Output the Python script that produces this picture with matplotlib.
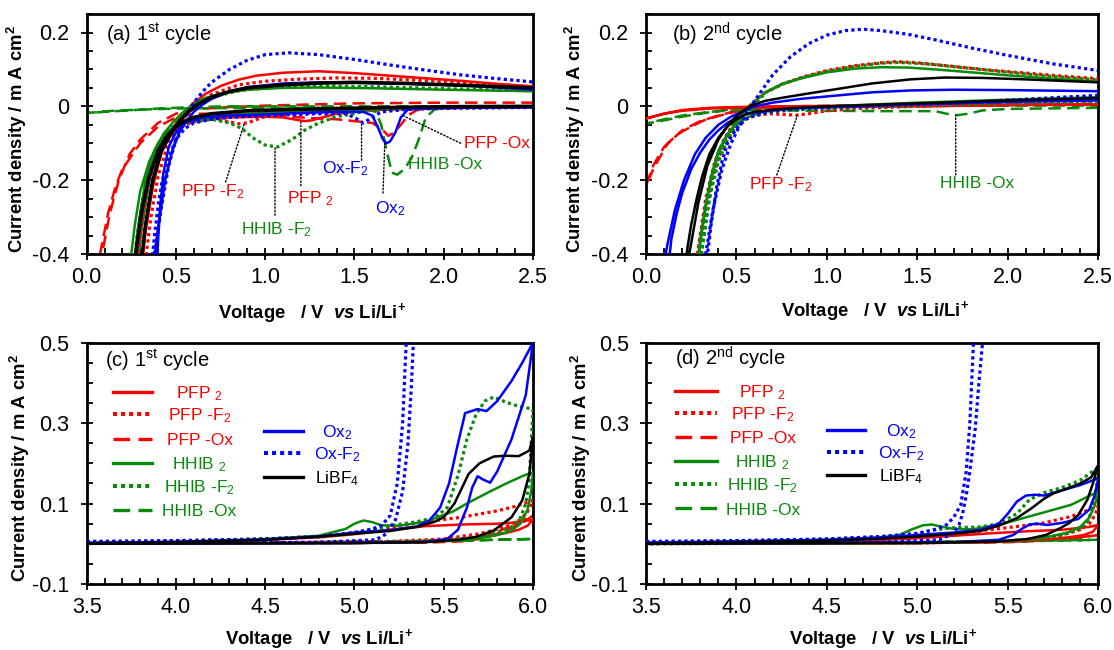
import matplotlib
matplotlib.use('Agg')
import matplotlib.pyplot as plt
from matplotlib.ticker import MultipleLocator, FuncFormatter

plt.rcParams['font.family'] = ['Liberation Sans', 'DejaVu Sans']
plt.rcParams['mathtext.fontset'] = 'custom'
plt.rcParams['mathtext.rm'] = 'Liberation Sans'
plt.rcParams['mathtext.it'] = 'Liberation Sans:italic'
plt.rcParams['mathtext.bf'] = 'Liberation Sans:bold'
plt.rcParams['mathtext.bfit'] = 'Liberation Sans:italic:bold'
plt.rcParams['axes.unicode_minus'] = False

# ---------------- series names / legend labels ----------------
SERIES = ['PFP2', 'PFP-F2', 'PFP-Ox', 'HHIB2', 'HHIB-F2', 'HHIB-Ox', 'Ox2', 'Ox-F2', 'LiBF4']
LABELS = ['PFP $_2$', 'PFP -F$_2$', 'PFP -Ox', 'HHIB $_2$', 'HHIB -F$_2$', 'HHIB -Ox',
          'Ox$_2$', 'Ox-F$_2$', 'LiBF$_4$']

# ---------------- panel (a): 1st cycle, 0-2.5 V ----------------
A_PFP2_V = [2.5, 2.0, 1.6, 1.4, 1.32, 1.26, 1.22, 1.17, 1.1, 1.0, 0.8, 0.65, 0.55, 0.5, 0.45, 0.4, 0.35, 0.31, 0.28,
            0.3, 0.33, 0.37, 0.42, 0.48, 0.54, 0.6, 0.67, 0.75, 0.85, 0.95, 1.1, 1.3, 1.5, 1.7, 1.9, 2.1, 2.3, 2.5]
A_PFP2_I = [-0.002, -0.005, -0.01, -0.02, -0.03, -0.038, -0.04, -0.036, -0.03, -0.028, -0.03, -0.035, -0.045, -0.06, -0.085, -0.125, -0.2, -0.32, -0.45,
            -0.45, -0.34, -0.22, -0.12, -0.06, -0.02, 0.01, 0.035, 0.055, 0.072, 0.083, 0.091, 0.095, 0.09, 0.083, 0.076, 0.069, 0.061, 0.054]
A_PFPF2_V = [2.5, 2.0, 1.6, 1.3, 1.1, 1.0, 0.95, 0.9, 0.85, 0.8, 0.75, 0.7, 0.6, 0.55, 0.5, 0.45, 0.4, 0.36, 0.33, 0.3,
             0.32, 0.36, 0.4, 0.45, 0.5, 0.55, 0.6, 0.7, 0.85, 1.0, 1.2, 1.4, 1.6, 1.8, 2.0, 2.2, 2.5]
A_PFPF2_I = [-0.002, -0.005, -0.01, -0.018, -0.022, -0.028, -0.036, -0.045, -0.047, -0.042, -0.037, -0.035, -0.042, -0.05, -0.065, -0.09, -0.14, -0.22, -0.32, -0.46,
             -0.45, -0.3, -0.19, -0.11, -0.06, -0.025, 0.0, 0.032, 0.058, 0.068, 0.074, 0.077, 0.076, 0.072, 0.067, 0.062, 0.053]
A_PFPOX_V = [2.5, 2.0, 1.85, 1.8, 1.76, 1.72, 1.69, 1.65, 1.6, 1.5, 1.4, 1.3, 1.2, 1.0, 0.8, 0.6, 0.5, 0.4, 0.3, 0.2, 0.16, 0.12, 0.075, 0.04, 0.0,
             0.04, 0.09, 0.13, 0.18, 0.24, 0.3, 0.4, 0.5, 0.6, 0.8, 1.0, 1.5, 2.0, 2.5]
A_PFPOX_I = [0.0, -0.003, -0.01, -0.025, -0.05, -0.072, -0.08, -0.06, -0.045, -0.04, -0.035, -0.033, -0.03, -0.022, -0.02, -0.02, -0.03, -0.055, -0.1, -0.17, -0.22, -0.29, -0.4, -0.5, -0.6,
             -0.5, -0.39, -0.29, -0.2, -0.13, -0.09, -0.045, -0.02, -0.008, -0.002, 0.002, 0.008, 0.01, 0.01]
A_HHIB2_V = [2.5, 2.0, 1.6, 1.2, 0.9, 0.7, 0.6, 0.55, 0.5, 0.45, 0.4, 0.35, 0.3, 0.27, 0.25, 0.23,
             0.26, 0.29, 0.33, 0.38, 0.43, 0.48, 0.53, 0.58, 0.65, 0.75, 0.9, 1.1, 1.3, 1.6, 2.0, 2.5]
A_HHIB2_I = [-0.002, -0.004, -0.008, -0.015, -0.02, -0.028, -0.035, -0.042, -0.052, -0.07, -0.1, -0.15, -0.23, -0.32, -0.4, -0.5,
             -0.45, -0.32, -0.2, -0.12, -0.075, -0.045, -0.02, 0.0, 0.02, 0.035, 0.045, 0.05, 0.051, 0.049, 0.045, 0.041]
A_HHIBF2_V = [2.5, 2.0, 1.6, 1.4, 1.3, 1.22, 1.15, 1.07, 1.0, 0.93, 0.87, 0.8, 0.7, 0.6, 0.55, 0.5, 0.45, 0.4, 0.35, 0.31, 0.28, 0.26,
              0.28, 0.31, 0.35, 0.4, 0.45, 0.5, 0.55, 0.6, 0.7, 0.85, 1.0, 1.2, 1.4, 1.7, 2.0, 2.5]
A_HHIBF2_I = [-0.002, -0.004, -0.01, -0.028, -0.045, -0.065, -0.09, -0.11, -0.105, -0.085, -0.06, -0.045, -0.035, -0.04, -0.045, -0.055, -0.075, -0.11, -0.17, -0.26, -0.36, -0.45,
              -0.45, -0.32, -0.2, -0.12, -0.075, -0.045, -0.02, 0.0, 0.025, 0.042, 0.05, 0.054, 0.055, 0.052, 0.048, 0.042]
A_HHIBOX_V = [2.5, 2.1, 1.95, 1.9, 1.86, 1.82, 1.78, 1.74, 1.71, 1.68, 1.65, 1.62, 1.55, 1.3, 1.0, 0.7, 0.5, 0.3, 0.15, 0.0,
              0.2, 0.4, 0.6, 0.8, 1.2, 1.6, 2.0, 2.5]
A_HHIBOX_I = [-0.002, -0.003, -0.008, -0.03, -0.09, -0.14, -0.17, -0.185, -0.18, -0.12, -0.05, -0.015, -0.006, -0.004, -0.004, -0.005, -0.006, -0.009, -0.012, -0.018,
              -0.012, -0.006, -0.002, 0.0, 0.0, 0.0, 0.0, -0.001]
A_OX2_V = [2.5, 2.0, 1.8, 1.76, 1.73, 1.7, 1.68, 1.66, 1.63, 1.6, 1.55, 1.4, 1.2, 1.0, 0.8, 0.65, 0.55, 0.5, 0.46, 0.43, 0.41, 0.39,
           0.37, 0.4, 0.44, 0.48, 0.52, 0.56, 0.6, 0.65, 0.7, 0.8, 0.9, 1.1, 1.3, 1.5, 1.8, 2.1, 2.3, 2.5]
A_OX2_I = [-0.002, -0.004, -0.008, -0.03, -0.07, -0.095, -0.1, -0.09, -0.055, -0.025, -0.015, -0.015, -0.018, -0.022, -0.025, -0.03, -0.045, -0.07, -0.11, -0.18, -0.28, -0.45,
           -0.45, -0.33, -0.2, -0.12, -0.07, -0.04, -0.015, 0.005, 0.02, 0.04, 0.052, 0.062, 0.065, 0.064, 0.061, 0.057, 0.051, 0.045]
A_OXF2_V = [2.5, 2.0, 1.8, 1.65, 1.6, 1.55, 1.5, 1.45, 1.3, 1.0, 0.8, 0.7, 0.6, 0.55, 0.5, 0.45, 0.42, 0.4, 0.38, 0.35,
            0.35, 0.38, 0.42, 0.46, 0.5, 0.55, 0.6, 0.65, 0.7, 0.8, 0.9, 1.0, 1.13, 1.3, 1.5, 1.7, 1.9, 2.1, 2.3, 2.5]
A_OXF2_I = [-0.003, -0.005, -0.008, -0.015, -0.03, -0.045, -0.03, -0.02, -0.02, -0.025, -0.03, -0.035, -0.045, -0.06, -0.09, -0.15, -0.21, -0.27, -0.35, -0.5,
            -0.5, -0.4, -0.27, -0.16, -0.09, -0.03, 0.01, 0.04, 0.065, 0.1, 0.125, 0.14, 0.145, 0.14, 0.127, 0.112, 0.098, 0.085, 0.075, 0.066]
A_LIBF4_V = [2.5, 2.0, 1.6, 1.2, 0.9, 0.7, 0.6, 0.55, 0.5, 0.45, 0.4, 0.35, 0.31, 0.28, 0.26,
             0.3, 0.33, 0.37, 0.42, 0.47, 0.52, 0.57, 0.62, 0.7, 0.8, 0.9, 1.1, 1.3, 1.5, 1.8, 2.1, 2.5]
A_LIBF4_I = [0.0, -0.001, -0.004, -0.008, -0.012, -0.02, -0.03, -0.04, -0.055, -0.08, -0.12, -0.19, -0.28, -0.38, -0.47,
             -0.45, -0.32, -0.2, -0.12, -0.075, -0.04, -0.015, 0.005, 0.025, 0.04, 0.05, 0.058, 0.063, 0.065, 0.062, 0.057, 0.05]

# ---------------- panel (b): 2nd cycle, 0-2.5 V ----------------
B_PFP2_V = [2.5, 2.0, 1.5, 1.0, 0.7, 0.5, 0.35, 0.2, 0.1, 0.0, 0.1, 0.2, 0.35, 0.5, 0.7, 1.0, 1.5, 2.0, 2.5]
B_PFP2_I = [0.005, 0.003, 0.0, -0.002, -0.003, -0.004, -0.006, -0.012, -0.02, -0.033,
            -0.02, -0.01, -0.004, -0.002, 0.0, 0.001, 0.003, 0.004, 0.005]
B_PFPF2_V = [2.5, 2.0, 1.5, 1.2, 1.0, 0.9, 0.83, 0.76, 0.68, 0.6, 0.55, 0.5, 0.45, 0.4, 0.36, 0.32, 0.29, 0.27,
             0.26, 0.29, 0.33, 0.38, 0.43, 0.48, 0.53, 0.58, 0.65, 0.75, 0.87, 1.0, 1.15, 1.3, 1.38, 1.5, 1.7, 1.9, 2.1, 2.3, 2.5]
B_PFPF2_I = [0.012, 0.008, 0.0, -0.005, -0.012, -0.02, -0.024, -0.022, -0.02, -0.025, -0.035, -0.055, -0.09, -0.14, -0.21, -0.3, -0.39, -0.48,
             -0.5, -0.38, -0.25, -0.15, -0.09, -0.05, -0.02, 0.005, 0.035, 0.06, 0.08, 0.097, 0.11, 0.118, 0.121, 0.118, 0.108, 0.098, 0.09, 0.082, 0.075]
B_PFPOX_V = [2.5, 2.0, 1.5, 1.0, 0.7, 0.6, 0.5, 0.4, 0.32, 0.25, 0.18, 0.12, 0.08, 0.04, 0.0,
             0.04, 0.1, 0.2, 0.3, 0.4, 0.5, 0.6, 0.8, 1.2, 1.8, 2.5]
B_PFPOX_I = [0.006, 0.004, 0.0, -0.003, -0.005, -0.007, -0.014, -0.026, -0.038, -0.055, -0.074, -0.1, -0.135, -0.17, -0.215,
             -0.16, -0.11, -0.065, -0.04, -0.025, -0.012, -0.003, 0.0, 0.003, 0.006, 0.007]
B_HHIB2_V = [2.5, 2.0, 1.5, 1.0, 0.8, 0.65, 0.57, 0.5, 0.45, 0.4, 0.36, 0.33, 0.3, 0.28,
             0.27, 0.3, 0.34, 0.39, 0.44, 0.49, 0.54, 0.59, 0.66, 0.75, 0.85, 1.0, 1.15, 1.3, 1.45, 1.6, 1.8, 2.0, 2.25, 2.5]
B_HHIB2_I = [0.025, 0.018, 0.01, 0.0, -0.006, -0.015, -0.028, -0.048, -0.075, -0.12, -0.19, -0.27, -0.37, -0.46,
             -0.48, -0.36, -0.24, -0.14, -0.085, -0.048, -0.018, 0.008, 0.038, 0.06, 0.075, 0.092, 0.102, 0.106, 0.105, 0.1, 0.092, 0.084, 0.075, 0.067]
B_HHIBF2_V = [2.5, 2.0, 1.5, 1.0, 0.8, 0.65, 0.57, 0.5, 0.45, 0.41, 0.37, 0.34, 0.31, 0.29,
              0.28, 0.31, 0.35, 0.4, 0.45, 0.5, 0.55, 0.6, 0.67, 0.77, 0.88, 1.0, 1.15, 1.3, 1.4, 1.55, 1.75, 1.95, 2.2, 2.5]
B_HHIBF2_I = [0.012, 0.008, 0.002, -0.006, -0.01, -0.018, -0.03, -0.05, -0.08, -0.12, -0.19, -0.28, -0.39, -0.48,
              -0.5, -0.38, -0.25, -0.15, -0.09, -0.05, -0.02, 0.008, 0.04, 0.063, 0.08, 0.095, 0.108, 0.117, 0.119, 0.115, 0.105, 0.095, 0.083, 0.072]
B_HHIBOX_V = [2.5, 2.0, 1.86, 1.78, 1.72, 1.66, 1.6, 1.3, 1.0, 0.7, 0.5, 0.35, 0.2, 0.1, 0.0,
              0.1, 0.2, 0.35, 0.5, 0.7, 1.0, 1.5, 2.0, 2.5]
B_HHIBOX_I = [-0.004, -0.007, -0.011, -0.02, -0.024, -0.02, -0.013, -0.013, -0.012, -0.011, -0.01, -0.015, -0.025, -0.035, -0.047,
              -0.038, -0.028, -0.016, -0.006, -0.002, 0.0, 0.001, 0.002, 0.002]
B_OX2_V = [2.5, 2.0, 1.5, 1.0, 0.8, 0.7, 0.6, 0.55, 0.5, 0.45, 0.4, 0.35, 0.3, 0.25, 0.2, 0.17, 0.14, 0.12,
           0.09, 0.12, 0.16, 0.21, 0.27, 0.33, 0.4, 0.47, 0.53, 0.6, 0.7, 0.85, 1.07, 1.25, 1.46, 1.7, 2.0, 2.5]
B_OX2_I = [0.016, 0.012, 0.006, -0.002, -0.006, -0.01, -0.017, -0.022, -0.032, -0.045, -0.065, -0.09, -0.125, -0.17, -0.235, -0.29, -0.36, -0.45,
           -0.45, -0.37, -0.28, -0.2, -0.13, -0.085, -0.05, -0.028, -0.015, 0.0, 0.01, 0.02, 0.03, 0.038, 0.043, 0.045, 0.044, 0.041]
B_OXF2_V = [2.5, 2.2, 1.9, 1.6, 1.3, 1.0, 0.8, 0.7, 0.6, 0.55, 0.5, 0.45, 0.42, 0.39, 0.36, 0.34, 0.32,
            0.3, 0.33, 0.37, 0.42, 0.47, 0.52, 0.56, 0.6, 0.65, 0.7, 0.8, 0.9, 1.0, 1.1, 1.2, 1.3, 1.45, 1.6, 1.8, 2.0, 2.25, 2.5]
B_OXF2_I = [0.03, 0.022, 0.014, 0.007, 0.002, -0.003, -0.008, -0.013, -0.025, -0.035, -0.06, -0.1, -0.15, -0.22, -0.32, -0.4, -0.5,
            -0.5, -0.4, -0.28, -0.17, -0.1, -0.05, -0.015, 0.015, 0.05, 0.085, 0.135, 0.17, 0.193, 0.205, 0.209, 0.205, 0.195, 0.18, 0.158, 0.138, 0.115, 0.097]
B_LIBF4_V = [2.5, 2.0, 1.5, 1.0, 0.8, 0.7, 0.6, 0.55, 0.5, 0.45, 0.4, 0.35, 0.31, 0.28, 0.25, 0.23, 0.21,
             0.22, 0.25, 0.29, 0.34, 0.4, 0.46, 0.52, 0.58, 0.66, 0.75, 0.9, 1.07, 1.25, 1.46, 1.65, 1.86, 2.1, 2.3, 2.5]
B_LIBF4_I = [0.022, 0.016, 0.008, 0.0, -0.005, -0.009, -0.015, -0.022, -0.035, -0.055, -0.085, -0.13, -0.19, -0.25, -0.32, -0.38, -0.46,
             -0.45, -0.37, -0.26, -0.16, -0.09, -0.045, -0.018, 0.002, 0.015, 0.023, 0.035, 0.048, 0.062, 0.073, 0.078, 0.077, 0.073, 0.069, 0.065]

# ---------------- panel (c): 1st cycle, 3.5-6.0 V ----------------
C_PFP2_V = [3.5, 4.0, 4.5, 4.8, 5.0, 5.2, 5.4, 5.6, 5.8, 5.9, 6.0,
            5.97, 5.92, 5.85, 5.75, 5.6, 5.4, 5.0, 4.0, 3.5]
C_PFP2_I = [0.001, 0.004, 0.01, 0.016, 0.024, 0.035, 0.044, 0.048, 0.05, 0.053, 0.06,
            0.045, 0.035, 0.027, 0.018, 0.01, 0.005, 0.002, 0.001, 0.0]
C_PFPF2_V = [3.5, 4.0, 4.5, 4.8, 5.0, 5.2, 5.4, 5.6, 5.8, 5.9, 6.0,
             5.97, 5.93, 5.88, 5.8, 5.7, 5.5, 5.2, 4.5, 3.5]
C_PFPF2_I = [0.004, 0.007, 0.012, 0.018, 0.028, 0.04, 0.055, 0.066, 0.082, 0.093, 0.108,
             0.08, 0.06, 0.048, 0.036, 0.025, 0.012, 0.006, 0.002, 0.001]
C_PFPOX_V = [3.5, 4.5, 5.0, 5.4, 5.6, 5.7, 5.8, 5.9, 5.95, 6.0,
             5.95, 5.88, 5.8, 5.7, 5.6, 5.4, 4.5, 3.5]
C_PFPOX_I = [0.001, 0.002, 0.003, 0.005, 0.01, 0.018, 0.03, 0.048, 0.06, 0.07,
             0.055, 0.04, 0.025, 0.012, 0.006, 0.003, 0.001, 0.0]
C_HHIB2_V = [3.5, 4.0, 4.5, 4.8, 4.95, 5.0, 5.05, 5.1, 5.15, 5.25, 5.4, 5.55, 5.65, 5.75, 5.85, 5.95, 6.0,
             5.99, 5.97, 5.93, 5.88, 5.8, 5.7, 5.6, 5.4, 5.0, 4.0, 3.5]
C_HHIB2_I = [0.002, 0.005, 0.012, 0.02, 0.037, 0.05, 0.058, 0.054, 0.046, 0.045, 0.055, 0.08, 0.105, 0.128, 0.15, 0.17, 0.178,
             0.13, 0.085, 0.05, 0.033, 0.022, 0.014, 0.009, 0.005, 0.002, 0.001, 0.0]
C_HHIBF2_V = [3.5, 4.0, 4.5, 4.8, 5.0, 5.1, 5.2, 5.35, 5.45, 5.52, 5.58, 5.63, 5.68, 5.73, 5.78, 5.85, 5.92, 6.0,
              5.99, 5.98, 5.96, 5.93, 5.88, 5.8, 5.7, 5.5, 5.2, 4.5, 3.5]
C_HHIBF2_I = [0.004, 0.007, 0.012, 0.018, 0.025, 0.035, 0.045, 0.055, 0.065, 0.09, 0.17, 0.26, 0.32, 0.355, 0.365, 0.352, 0.342, 0.335,
              0.25, 0.16, 0.1, 0.065, 0.042, 0.027, 0.017, 0.009, 0.005, 0.002, 0.001]
C_HHIBOX_V = [3.5, 4.5, 5.0, 5.5, 5.7, 5.85, 6.0, 5.8, 5.6, 5.3, 4.5, 3.5]
C_HHIBOX_I = [0.001, 0.003, 0.005, 0.007, 0.009, 0.011, 0.012, 0.01, 0.008, 0.006, 0.003, 0.001]
C_OX2_V = [3.5, 4.0, 4.5, 4.8, 5.0, 5.2, 5.35, 5.42, 5.48, 5.53, 5.57, 5.62, 5.69, 5.74, 5.8, 5.88, 5.94, 6.0,
           5.96, 5.88, 5.8, 5.76, 5.72, 5.69, 5.66, 5.63, 5.58, 5.52, 5.4, 5.0, 4.0, 3.5]
C_OX2_I = [0.002, 0.005, 0.01, 0.018, 0.028, 0.034, 0.043, 0.058, 0.09, 0.15, 0.23, 0.325, 0.335, 0.33, 0.355, 0.405, 0.45, 0.5,
           0.37, 0.26, 0.18, 0.152, 0.16, 0.168, 0.14, 0.09, 0.035, 0.012, 0.005, 0.002, 0.001, 0.0]
C_OXF2_V = [3.5, 4.0, 4.5, 4.8, 5.0, 5.1, 5.15, 5.2, 5.24, 5.27, 5.285, 5.3,
            5.34, 5.32, 5.3, 5.27, 5.23, 5.18, 5.12, 4.8, 4.0, 3.5]
C_OXF2_I = [0.006, 0.008, 0.012, 0.018, 0.028, 0.037, 0.045, 0.07, 0.15, 0.3, 0.45, 0.6,
            0.6, 0.4, 0.25, 0.13, 0.06, 0.025, 0.01, 0.004, 0.002, 0.001]
C_LIBF4_V = [3.5, 4.0, 4.5, 4.8, 5.0, 5.2, 5.35, 5.45, 5.5, 5.56, 5.64, 5.7, 5.78, 5.85, 5.92, 5.98, 6.0,
             5.98, 5.94, 5.88, 5.78, 5.68, 5.58, 5.4, 5.0, 4.0, 3.5]
C_LIBF4_I = [0.001, 0.004, 0.01, 0.018, 0.025, 0.032, 0.042, 0.055, 0.066, 0.1, 0.174, 0.2, 0.217, 0.219, 0.218, 0.232, 0.265,
             0.174, 0.108, 0.066, 0.033, 0.017, 0.01, 0.004, 0.002, 0.001, 0.0]

# ---------------- panel (d): 2nd cycle, 3.5-6.0 V ----------------
D_PFP2_V = [3.5, 4.0, 4.5, 4.8, 5.0, 5.2, 5.4, 5.6, 5.8, 5.95, 6.0,
            5.97, 5.92, 5.85, 5.75, 5.6, 5.4, 5.0, 4.0, 3.5]
D_PFP2_I = [0.001, 0.003, 0.006, 0.01, 0.014, 0.02, 0.026, 0.031, 0.035, 0.042, 0.047,
            0.03, 0.022, 0.017, 0.012, 0.008, 0.004, 0.002, 0.001, 0.0]
D_PFPF2_V = [3.5, 4.0, 4.5, 4.8, 5.0, 5.2, 5.4, 5.55, 5.7, 5.85, 6.0,
             5.98, 5.95, 5.9, 5.8, 5.65, 5.45, 5.0, 4.0, 3.5]
D_PFPF2_I = [0.003, 0.005, 0.009, 0.013, 0.018, 0.025, 0.035, 0.043, 0.052, 0.068, 0.093,
             0.07, 0.05, 0.035, 0.022, 0.012, 0.006, 0.002, 0.001, 0.0]
D_PFPOX_V = [3.5, 4.5, 5.0, 5.5, 5.7, 5.85, 6.0, 5.85, 5.6, 5.2, 4.0, 3.5]
D_PFPOX_I = [0.0, 0.001, 0.002, 0.004, 0.008, 0.014, 0.022, 0.012, 0.006, 0.003, 0.001, 0.0]
D_HHIB2_V = [3.5, 4.0, 4.5, 4.8, 4.9, 4.97, 5.03, 5.08, 5.13, 5.2, 5.3, 5.45, 5.65, 5.85, 6.0,
             5.98, 5.95, 5.9, 5.83, 5.73, 5.6, 5.4, 5.0, 4.0, 3.5]
D_HHIB2_I = [0.002, 0.005, 0.01, 0.015, 0.022, 0.036, 0.046, 0.048, 0.043, 0.037, 0.036, 0.047, 0.072, 0.097, 0.13,
             0.095, 0.065, 0.042, 0.028, 0.018, 0.01, 0.005, 0.002, 0.001, 0.0]
D_HHIBF2_V = [3.5, 4.0, 4.5, 4.8, 5.0, 5.1, 5.2, 5.35, 5.45, 5.55, 5.62, 5.7, 5.8, 5.9, 6.0,
              5.99, 5.97, 5.94, 5.9, 5.8, 5.7, 5.5, 5.0, 4.0, 3.5]
D_HHIBF2_I = [0.004, 0.007, 0.012, 0.018, 0.025, 0.035, 0.04, 0.042, 0.05, 0.075, 0.11, 0.127, 0.14, 0.158, 0.19,
              0.14, 0.09, 0.055, 0.038, 0.022, 0.014, 0.007, 0.003, 0.001, 0.0]
D_HHIBOX_V = [3.5, 4.5, 5.0, 5.5, 5.8, 6.0, 5.7, 5.3, 4.5, 3.5]
D_HHIBOX_I = [0.001, 0.003, 0.004, 0.006, 0.008, 0.01, 0.008, 0.006, 0.003, 0.001]
D_OX2_V = [3.5, 4.0, 4.5, 4.8, 5.0, 5.2, 5.35, 5.45, 5.5, 5.55, 5.6, 5.65, 5.7, 5.8, 5.9, 6.0,
           5.98, 5.95, 5.89, 5.8, 5.72, 5.66, 5.62, 5.58, 5.53, 5.45, 5.2, 4.5, 3.5]
D_OX2_I = [0.003, 0.006, 0.01, 0.016, 0.022, 0.028, 0.035, 0.05, 0.075, 0.105, 0.12, 0.122, 0.12, 0.133, 0.146, 0.163,
           0.12, 0.085, 0.062, 0.052, 0.047, 0.05, 0.048, 0.038, 0.022, 0.01, 0.004, 0.002, 0.001]
D_OXF2_V = [3.5, 4.0, 4.5, 4.8, 5.0, 5.1, 5.16, 5.2, 5.24, 5.27, 5.29, 5.31, 5.32,
            5.37, 5.36, 5.34, 5.32, 5.29, 5.27, 5.25, 5.23, 5.2, 5.12, 4.8, 4.0, 3.5]
D_OXF2_I = [0.006, 0.008, 0.012, 0.018, 0.026, 0.036, 0.047, 0.065, 0.097, 0.18, 0.3, 0.5, 0.6,
            0.6, 0.5, 0.4, 0.287, 0.18, 0.12, 0.075, 0.047, 0.026, 0.01, 0.004, 0.002, 0.001]
D_LIBF4_V = [3.5, 4.0, 4.5, 4.8, 5.0, 5.2, 5.35, 5.45, 5.55, 5.63, 5.7, 5.75, 5.83, 5.9, 5.96, 6.0,
             5.97, 5.94, 5.89, 5.84, 5.79, 5.71, 5.61, 5.45, 5.0, 4.0, 3.5]
D_LIBF4_I = [0.001, 0.004, 0.008, 0.013, 0.018, 0.025, 0.032, 0.045, 0.064, 0.088, 0.112, 0.125, 0.138, 0.15, 0.165, 0.196,
             0.15, 0.11, 0.072, 0.052, 0.039, 0.022, 0.012, 0.006, 0.002, 0.001, 0.0]

PANEL_A = [(A_PFP2_V, A_PFP2_I), (A_PFPF2_V, A_PFPF2_I), (A_PFPOX_V, A_PFPOX_I), (A_HHIB2_V, A_HHIB2_I),
           (A_HHIBF2_V, A_HHIBF2_I), (A_HHIBOX_V, A_HHIBOX_I), (A_OX2_V, A_OX2_I), (A_OXF2_V, A_OXF2_I),
           (A_LIBF4_V, A_LIBF4_I)]
PANEL_B = [(B_PFP2_V, B_PFP2_I), (B_PFPF2_V, B_PFPF2_I), (B_PFPOX_V, B_PFPOX_I), (B_HHIB2_V, B_HHIB2_I),
           (B_HHIBF2_V, B_HHIBF2_I), (B_HHIBOX_V, B_HHIBOX_I), (B_OX2_V, B_OX2_I), (B_OXF2_V, B_OXF2_I),
           (B_LIBF4_V, B_LIBF4_I)]
PANEL_C = [(C_PFP2_V, C_PFP2_I), (C_PFPF2_V, C_PFPF2_I), (C_PFPOX_V, C_PFPOX_I), (C_HHIB2_V, C_HHIB2_I),
           (C_HHIBF2_V, C_HHIBF2_I), (C_HHIBOX_V, C_HHIBOX_I), (C_OX2_V, C_OX2_I), (C_OXF2_V, C_OXF2_I),
           (C_LIBF4_V, C_LIBF4_I)]
PANEL_D = [(D_PFP2_V, D_PFP2_I), (D_PFPF2_V, D_PFPF2_I), (D_PFPOX_V, D_PFPOX_I), (D_HHIB2_V, D_HHIB2_I),
           (D_HHIBF2_V, D_HHIBF2_I), (D_HHIBOX_V, D_HHIBOX_I), (D_OX2_V, D_OX2_I), (D_OXF2_V, D_OXF2_I),
           (D_LIBF4_V, D_LIBF4_I)]

# ---------------- styles ----------------
RED, GREEN, BLUE, BLACK = '#FF0000', '#0A8A0A', '#0000FF', '#000000'
DOT = (0, (1, 1))
DASH = (0, (5, 2.5))
STYLES = [(RED, '-', 1.8), (RED, DOT, 2.3), (RED, DASH, 1.8),
          (GREEN, '-', 1.8), (GREEN, DOT, 2.3), (GREEN, DASH, 1.8),
          (BLUE, '-', 1.8), (BLUE, DOT, 2.3), (BLACK, '-', 1.8)]
ZORD = [3, 3, 2, 3, 3, 2, 4, 4, 5]

FS_TICK = 15.5
FS_LAB = 13.3
FS_TXT = 12.5
FS_TITLE = 14.5

XLABEL = r'Voltage   / V  $\mathbfit{vs}$ Li/Li$^{\mathbf{+}}$'
YLABEL = r'Current density / m A cm$^{\mathbf{2}}$'

fig = plt.figure(figsize=(11.14, 6.5), dpi=100)
axA = fig.add_axes([0.0778, 0.6092, 0.4006, 0.3692])
axB = fig.add_axes([0.5799, 0.6092, 0.4060, 0.3692])
axC = fig.add_axes([0.0778, 0.1015, 0.4006, 0.3712])
axD = fig.add_axes([0.5799, 0.1015, 0.4060, 0.3712])


def fmt_low(v, pos):
    if abs(v) < 1e-9:
        return '0'
    return '%.1f' % v


def style_axes(ax, xlim, ylim, xmaj, ylabfmt, ylab_x, xlab_x, xlab_y, yticks):
    ax.set_xlim(*xlim)
    ax.set_ylim(*ylim)
    ax.xaxis.set_major_locator(MultipleLocator(xmaj))
    ax.xaxis.set_minor_locator(MultipleLocator(0.1))
    ax.set_yticks(yticks)
    ax.yaxis.set_minor_locator(MultipleLocator(0.05))
    ax.xaxis.set_major_formatter(FuncFormatter(lambda v, p: '%.1f' % v))
    ax.yaxis.set_major_formatter(FuncFormatter(ylabfmt))
    for s in ax.spines.values():
        s.set_linewidth(2.0)
    ax.tick_params(which='major', direction='inout', length=9, width=1.3,
                   labelsize=FS_TICK, top=False, right=False)
    ax.tick_params(which='minor', direction='in', length=4, width=1.3, top=False, right=False)
    ax.tick_params(axis='y', which='major', pad=8)
    ax.tick_params(axis='x', which='major', pad=5)
    ax.set_xlabel(XLABEL, fontsize=FS_LAB, fontweight='bold')
    ax.set_ylabel(YLABEL, fontsize=FS_LAB, fontweight='bold')
    ax.yaxis.set_label_coords(ylab_x, 0.48)
    ax.xaxis.set_label_coords(xlab_x, xlab_y)


def draw_panel(ax, panel, black_lw):
    for k, (v, i) in enumerate(panel):
        c, ls, lw = STYLES[k]
        if k == 8:
            lw = black_lw
        ax.plot(v, i, color=c, linestyle=ls, linewidth=lw, zorder=ZORD[k])


def pointer(ax, p_from, p_to):
    ax.annotate('', xy=p_from, xytext=p_to,
                arrowprops=dict(arrowstyle='-', color='black', lw=1.0,
                                linestyle=(0, (1, 1.5)), shrinkA=0, shrinkB=0))


def title(ax, txt, x, y):
    ax.text(x, y - 0.03, txt, transform=ax.transAxes, fontsize=FS_TITLE,
            ha='left', va='baseline')


draw_panel(axA, PANEL_A, 2.6)
draw_panel(axB, PANEL_B, 1.8)
draw_panel(axC, PANEL_C, 1.8)
draw_panel(axD, PANEL_D, 1.8)

style_axes(axA, (0, 2.5), (-0.4, 0.25), 0.5, fmt_low, -0.13, 0.506, -0.196, [-0.4, -0.2, 0.0, 0.2])
style_axes(axB, (0, 2.5), (-0.4, 0.25), 0.5, fmt_low, -0.13, 0.507, -0.188, [-0.4, -0.2, 0.0, 0.2])
style_axes(axC, (3.5, 6.0), (-0.1, 0.5), 0.5, lambda v, p: '%.1f' % v, -0.122, 0.521, -0.178, [-0.1, 0.1, 0.3, 0.5])
style_axes(axD, (3.5, 6.0), (-0.1, 0.5), 0.5, lambda v, p: '%.1f' % v, -0.118, 0.524, -0.178, [-0.1, 0.1, 0.3, 0.5])

title(axA, r'(a) 1$^{\mathrm{st}}$ cycle', 0.044, 0.919)
title(axB, r'(b) 2$^{\mathrm{nd}}$ cycle', 0.057, 0.915)
title(axC, r'(c) 1$^{\mathrm{st}}$ cycle', 0.042, 0.931)
title(axD, r'(d) 2$^{\mathrm{nd}}$ cycle', 0.0646, 0.937)

# ---------------- annotations in (a) ----------------
pointer(axA, (0.883, -0.047), (0.778, -0.205))
pointer(axA, (1.055, -0.11), (1.055, -0.295))
pointer(axA, (1.2, -0.042), (1.2, -0.215))
pointer(axA, (1.54, -0.047), (1.54, -0.146))
pointer(axA, (1.67, -0.1), (1.66, -0.235))
pointer(axA, (1.768, -0.024), (2.095, -0.1))
axA.text(0.703, -0.2315, LABELS[1], color=RED, fontsize=FS_TXT, ha='center', va='center')
axA.text(1.063, -0.335, LABELS[4], color=GREEN, fontsize=FS_TXT, ha='center', va='center')
axA.text(1.251, -0.249, LABELS[0], color=RED, fontsize=FS_TXT, ha='center', va='center')
axA.text(1.451, -0.170, LABELS[7], color=BLUE, fontsize=FS_TXT, ha='center', va='center')
axA.text(1.70, -0.2775, LABELS[6], color=BLUE, fontsize=FS_TXT, ha='center', va='center')
axA.text(2.007, -0.158, LABELS[5], color=GREEN, fontsize=FS_TXT, ha='center', va='center')
axA.text(2.298, -0.101, LABELS[2], color=RED, fontsize=FS_TXT, ha='center', va='center')

# ---------------- annotations in (b) ----------------
pointer(axB, (0.837, -0.024), (0.723, -0.186))
pointer(axB, (1.712, -0.024), (1.712, -0.186))
axB.text(0.743, -0.2126, LABELS[1], color=RED, fontsize=FS_TXT, ha='center', va='center')
axB.text(1.828, -0.208, LABELS[5], color=GREEN, fontsize=FS_TXT, ha='center', va='center')


# ---------------- manual legends in (c) and (d) ----------------
def legend(ax, lx0, lx1, tx, rows_l, rx0, rx1, rtx, rows_r):
    for k in range(6):
        c, ls, lw = STYLES[k]
        y = rows_l[k]
        ax.plot([lx0, lx1], [y, y], transform=ax.transAxes, color=c, linestyle=ls,
                linewidth=lw + 0.6, clip_on=False)
        ax.text(tx, y - 0.026, LABELS[k], transform=ax.transAxes, color=c,
                fontsize=FS_TXT, ha='center', va='baseline')
    for j, k in enumerate([6, 7, 8]):
        c, ls, lw = STYLES[k]
        y = rows_r[j]
        ax.plot([rx0, rx1], [y, y], transform=ax.transAxes, color=c, linestyle=ls,
                linewidth=lw + 0.6, clip_on=False)
        ax.text(rtx, y - 0.026, LABELS[k], transform=ax.transAxes, color=c,
                fontsize=FS_TXT, ha='center', va='baseline')


legend(axC, 0.06, 0.147, 0.253, [0.794, 0.704, 0.603, 0.503, 0.407, 0.306],
       0.398, 0.484, 0.561, [0.634, 0.541, 0.445])
legend(axD, 0.065, 0.156, 0.258, [0.800, 0.708, 0.610, 0.511, 0.415, 0.314],
       0.400, 0.485, 0.565, [0.640, 0.548, 0.452])

fig.savefig('out.png', dpi=100)
